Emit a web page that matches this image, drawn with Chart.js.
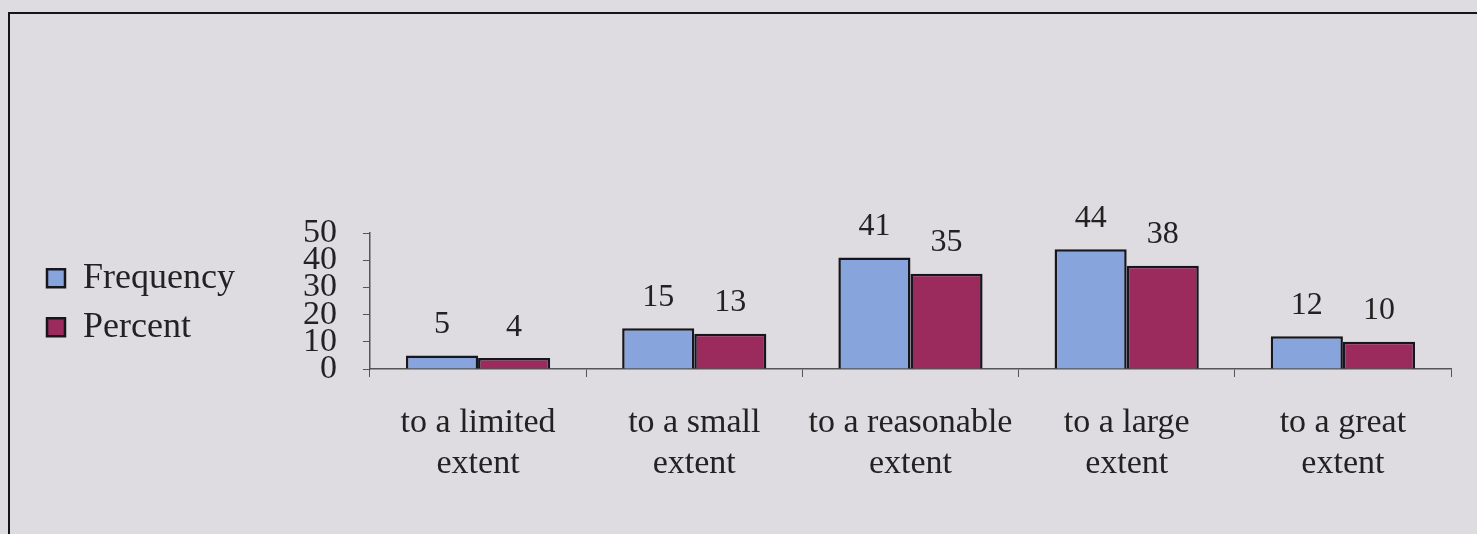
<!DOCTYPE html>
<html>
<head>
<meta charset="utf-8">
<script src="https://cdn.jsdelivr.net/npm/chart.js@4.4.1/dist/chart.umd.min.js"></script>
<style>
  html, body { margin: 0; padding: 0; background: #dfdce1; overflow: hidden; }
  #wrap { position: absolute; left: 0; top: 0; width: 1477px; height: 534px; overflow: hidden; }
  #frame { position: absolute; left: 8px; top: 12px; width: 1600px; height: 700px;
           border-top: 2px solid #151515; border-left: 2px solid #151515; }
  canvas { position: absolute; left: 0; top: 0; }
</style>
</head>
<body>
<div id="wrap">
  <div id="frame"></div>
  <canvas id="extentChart" width="1477" height="534"></canvas>
</div>
<script>
// categories and series
const categories = [
    ['to a limited', 'extent'],
    ['to a small', 'extent'],
    ['to a reasonable', 'extent'],
    ['to a large', 'extent'],
    ['to a great', 'extent']
];
const frequency = [5, 15, 41, 44, 12];
const percent = [4, 13, 35, 38, 10];
const yTicks = [0, 10, 20, 30, 40, 50];

const SERIF = "'Liberation Serif', 'Times New Roman', serif";

// value labels above each bar
const barValues = {
    id: 'barValues',
    afterDatasetsDraw(chart) {
        const ctx = chart.ctx;
        ctx.save();
        ctx.font = '32px ' + SERIF;
        ctx.fillStyle = '#222';
        ctx.textAlign = 'center';
        ctx.textBaseline = 'middle';
        chart.data.datasets.forEach((ds, i) => {
            chart.getDatasetMeta(i).data.forEach((bar, j) => {
                ctx.fillText(String(ds.data[j]), bar.x, bar.y - 31);
            });
        });
        ctx.restore();
    }
};

new Chart(document.getElementById('extentChart'), {
    type: 'bar',
    data: {
        labels: categories,
        datasets: [
            {
                label: 'Frequency',
                data: frequency,
                backgroundColor: '#87a4dc',
                borderColor: '#16161f',
                borderWidth: 2.5
            },
            {
                label: 'Percent',
                data: percent,
                backgroundColor: '#9a2b5c',
                borderColor: '#16161f',
                borderWidth: 2.5
            }
        ]
    },
    options: {
        responsive: false,
        animation: false,
        layout: { padding: { left: 34, right: 26, top: 233, bottom: 29 } },
        datasets: { bar: { categoryPercentage: 0.667, barPercentage: 1.0 } },
        plugins: {
            tooltip: { enabled: false },
            legend: {
                position: 'left',
                align: 'start',
                title: { display: true, text: '', font: { size: 1 }, padding: { top: 13, bottom: 0 } },
                labels: {
                    color: '#222',
                    font: { family: SERIF, size: 36 },
                    boxWidth: 18,
                    boxHeight: 18,
                    padding: 13
                }
            }
        },
        scales: {
            x: {
                grid: { drawOnChartArea: false, drawTicks: true, tickLength: 8, color: '#555', offset: true },
                border: { display: true, color: '#555', width: 1.5 },
                ticks: {
                    color: '#222',
                    maxRotation: 0,
                    autoSkip: false,
                    padding: 26,
                    font: { family: SERIF, size: 34, lineHeight: 1.2 }
                }
            },
            y: {
                min: 0,
                max: 50,
                afterBuildTicks: s => { s.ticks = yTicks.map(v => ({ value: v })); },
                afterFit: s => { s.width = 125; },
                grid: { drawOnChartArea: false, drawTicks: true, tickLength: 7, color: '#555' },
                border: { display: true, color: '#555', width: 1.5 },
                ticks: {
                    color: '#222',
                    autoSkip: false,
                    padding: 26,
                    font: { family: SERIF, size: 34, lineHeight: 0.8 }
                }
            }
        }
    },
    plugins: [barValues]
});
</script>
</body>
</html>
